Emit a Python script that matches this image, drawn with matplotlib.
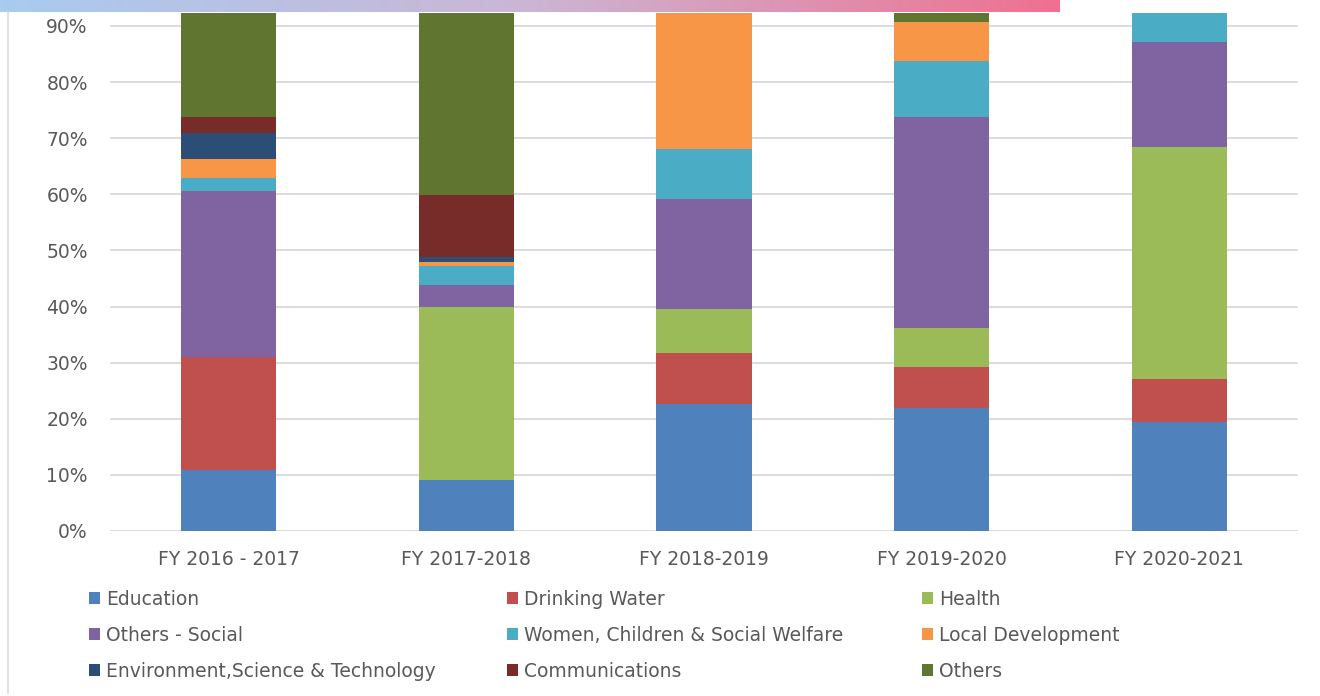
import numpy as np
import matplotlib
matplotlib.use("Agg")
import matplotlib.pyplot as plt
from matplotlib.patches import Patch
from matplotlib.lines import Line2D

plt.rcParams['font.family'] = ['DejaVu Sans']

years = ['FY 2016 - 2017', 'FY 2017-2018', 'FY 2018-2019', 'FY 2019-2020', 'FY 2020-2021']

education = [10.9, 9.1, 22.6, 21.9, 19.5]
drinking_water = [20.1, 0.0, 9.1, 7.3, 7.6]
health = [0.0, 30.9, 7.9, 6.9, 41.4]
others_social = [29.5, 3.8, 19.5, 37.6, 18.6]
women_children = [2.4, 3.5, 9.0, 10.1, 12.9]
local_dev = [3.4, 0.7, 31.9, 6.9, 0.0]
env_sci = [4.6, 0.8, 0.0, 0.0, 0.0]
communications = [2.8, 11.1, 0.0, 0.0, 0.0]
others = [26.3, 40.1, 0.0, 9.3, 0.0]

series = [
    ('Education', education, '#4F81BD'),
    ('Drinking Water', drinking_water, '#C0504D'),
    ('Health', health, '#9BBB59'),
    ('Others - Social', others_social, '#8064A2'),
    ('Women, Children & Social Welfare', women_children, '#4BACC6'),
    ('Local Development', local_dev, '#F79646'),
    ('Environment,Science & Technology', env_sci, '#2C4D75'),
    ('Communications', communications, '#772C2A'),
    ('Others', others, '#5F7530'),
]

text_col = '#595959'

fig = plt.figure(figsize=(13.2, 6.96), dpi=100)
ax = fig.add_axes([110 / 1320, 1 - 531 / 696, 1188 / 1320, 518 / 696])

x = np.arange(len(years))
bottom = np.zeros(len(years))
for name, vals, col in series:
    v = np.array(vals) / 100
    ax.bar(x, v, 0.4, bottom=bottom, color=col, label=name, zorder=3)
    bottom += v

ax.set_xlim(-0.5, len(years) - 0.5)
ax.set_ylim(0, 0.923)
ax.set_yticks(np.arange(0, 1.0, 0.1))
ax.set_yticklabels([f'{int(round(t * 100))}%' for t in np.arange(0, 1.0, 0.1)])
ax.set_xticks(x)
ax.set_xticklabels(years)
ax.tick_params(length=0, labelsize=13.5, colors=text_col)
ax.tick_params(axis='x', pad=14)
ax.tick_params(axis='y', pad=16)
ax.grid(axis='y', color='#D9D9D9', linewidth=1.3, zorder=0)
for s in ax.spines.values():
    s.set_visible(False)

# legend: three columns, placed one by one
col_x = [89, 507, 922]
for j in range(3):
    hs = [Patch(facecolor=series[k][2]) for k in (j, j + 3, j + 6)]
    ls = [series[k][0] for k in (j, j + 3, j + 6)]
    fig.legend(hs, ls, loc='upper left', bbox_to_anchor=(col_x[j] / 1320, 1 - 590 / 696),
               frameon=False, fontsize=13.5, handlelength=0.6, handleheight=0.6,
               handletextpad=0.3, labelspacing=0.9, labelcolor=text_col,
               borderpad=0, borderaxespad=0)

# gradient strip at the top
gax = fig.add_axes([0, 1 - 12 / 696, 1060 / 1320, 12 / 696])
grad = np.linspace(0, 1, 256)
c0 = np.array([0xA9, 0xCB, 0xF0]) / 255
c1 = np.array([0xCB, 0xB6, 0xD4]) / 255
c2 = np.array([0xF0, 0x70, 0x90]) / 255
rgb = np.where(grad[:, None] < 0.5,
               c0 + (c1 - c0) * (grad[:, None] / 0.5),
               c1 + (c2 - c1) * ((grad[:, None] - 0.5) / 0.5))
gax.imshow(rgb[None, :, :], aspect='auto', extent=[0, 1, 0, 1])
gax.axis('off')

fig.add_artist(Line2D([8 / 1320, 8 / 1320], [0.005, 1 - 12 / 696],
                      color='#D9D9D9', linewidth=1.2, transform=fig.transFigure))

fig.savefig('out.png', dpi=100, facecolor='white')
